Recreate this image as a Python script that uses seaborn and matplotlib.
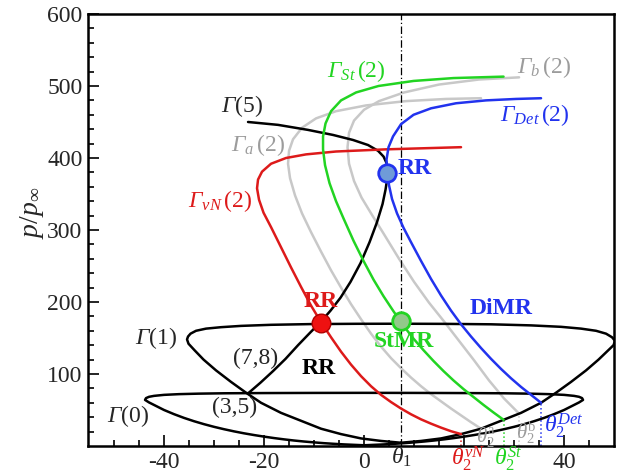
import numpy as np
import pandas as pd
import seaborn as sns
import matplotlib
matplotlib.use('Agg')
import matplotlib.pyplot as plt

# shock polars: (deflection angle, p/p_inf)
gamma0 = [(0, 1), (-2, 1.6), (-4, 2.2), (-6, 3), (-8, 3.9), (-10, 5), (-12, 6.2), (-14, 7.6),
          (-16, 9.2), (-18, 11), (-20, 13), (-22, 15.2), (-24, 17.6), (-26, 20.3), (-28, 23.3),
          (-30, 26.6), (-32, 30.3), (-34, 34.4), (-36, 39), (-38, 44.2), (-40, 50), (-41, 53.5),
          (-42, 57), (-43, 60.5), (-43.8, 64), (-43.6, 66.5), (-43, 68.3), (-42, 69.6), (-40, 71),
          (-37, 72), (-33, 72.7), (-28, 73.2), (-20, 73.5), (-10, 73.7), (0, 73.8), (10, 73.7),
          (20, 73.5), (28, 73.2), (33, 72.7), (37, 72), (40, 71), (42, 69.6), (43, 68.3),
          (43.6, 66.5), (43.8, 64), (43, 60.5), (42, 57), (41, 53.5), (40, 50), (38, 44.2),
          (36, 39), (34, 34.4), (32, 30.3), (30, 26.6), (28, 23.3), (26, 20.3), (24, 17.6),
          (22, 15.2), (20, 13), (18, 11), (16, 9.2), (14, 7.6), (12, 6.2), (10, 5), (8, 3.9),
          (6, 3), (4, 2.2), (2, 1.6), (0, 1)]

gamma1 = [(7.4, 4.5), (3.4, 7), (-0.6, 10.5), (-4.6, 16.5), (-8.6, 24), (-12.6, 35), (-16.6, 46),
          (-20.6, 60), (-23.6, 74), (-26.6, 89), (-29.6, 105), (-32.1, 120), (-33.9, 133),
          (-35.1, 142), (-35.4, 148), (-35.2, 152), (-34.7, 156), (-33.6, 160), (-31.6, 163),
          (-28.6, 165), (-24.6, 166.8), (-18.6, 168.3), (-10.6, 169.3), (-1.6, 169.7),
          (7.4, 169.8), (16.4, 169.6), (25.4, 169), (33.4, 167.5), (39.4, 165.5), (43.4, 163),
          (46.4, 160), (48.4, 156), (49.6, 151), (50.2, 146), (49.9, 140), (48.7, 132),
          (46.9, 120), (44.4, 105), (41.4, 89), (38.4, 74), (35.4, 60), (31.4, 46), (27.4, 35),
          (23.4, 24), (19.4, 16.5), (15.4, 10.5), (11.4, 7), (7.4, 4.5)]

gamma5 = [(-23.2, 73), (-20.7, 88), (-18.2, 104), (-15.7, 121), (-13.2, 140), (-10.7, 158),
          (-8.7, 172), (-6.7, 188), (-4.7, 206), (-2.7, 228), (-0.7, 254), (1.1, 283), (2.6, 311),
          (3.7, 336), (4.3, 356), (4.65, 372), (4.7, 382), (4.5, 393), (3.9, 402), (2.8, 410),
          (0.8, 418), (-2.2, 425), (-6.2, 432), (-11.2, 439), (-17.2, 446), (-23.2, 450)]

gamma_vn = [(19.4, 16.5), (17.4, 20.5), (15.4, 25.5), (13.4, 31), (11.4, 37), (9.4, 44), (7.4, 52),
            (5.4, 61), (3.4, 71), (1.4, 83), (-0.6, 97), (-2.6, 113), (-4.6, 131), (-6.6, 151),
            (-8.6, 172), (-10.6, 195), (-12.6, 221), (-14.6, 248), (-16.6, 276), (-18.6, 304),
            (-20.1, 324), (-21.0, 342), (-21.4, 358), (-21.2, 370), (-20.4, 381), (-18.6, 392),
            (-15.6, 400), (-11.6, 405), (-5.6, 409), (4.4, 412), (14.4, 414), (19.4, 415)]

gamma_a = [(23.4, 24), (21.4, 33), (19.4, 42.5), (17.4, 52), (15.4, 62), (13.4, 72), (11.4, 83),
           (9.4, 95), (7.4, 108), (5.4, 122), (3.4, 138), (1.4, 156), (-0.6, 176), (-2.6, 197),
           (-4.6, 220), (-6.6, 244), (-8.6, 270), (-10.6, 297), (-12.4, 323), (-13.8, 348),
           (-14.8, 372), (-15.2, 392), (-15.0, 410), (-14.2, 426), (-12.4, 442), (-9.6, 455),
           (-5.6, 465), (0.4, 473), (8.4, 479), (16.4, 482), (23.4, 483)]

gamma_st = [(27.9, 36.4), (25.9, 46.5), (23.9, 57), (21.9, 68), (19.9, 79), (17.9, 91), (15.9, 104),
            (13.9, 118), (11.9, 133), (9.9, 149), (7.9, 167), (5.9, 187), (3.9, 208), (1.9, 231),
            (-0.1, 257), (-2.1, 285), (-4.1, 316), (-5.6, 340), (-6.9, 365), (-7.8, 390),
            (-8.2, 412), (-8.2, 430), (-7.7, 448), (-6.6, 465), (-4.6, 480), (-1.6, 491),
            (2.9, 500), (9.9, 507), (17.9, 511), (27.9, 513)]

gamma_b = [(31, 45), (28, 66), (25, 91), (22, 119), (19, 146), (16, 173), (13, 199), (10, 228),
           (7, 260), (4, 294), (1.5, 322), (-0.5, 345), (-2, 368), (-3, 392), (-3.3, 415),
           (-3, 435), (-2, 452), (0, 467), (3, 479), (8, 491), (15, 502), (23, 509), (31, 512)]

gamma_det = [(35.4, 60), (33.4, 71), (31.4, 82), (29.4, 94), (27.4, 107), (25.4, 121), (23.4, 136),
             (21.4, 152), (19.4, 169), (17.4, 188), (15.4, 209), (13.4, 232), (11.4, 257),
             (9.4, 283), (7.9, 303), (6.6, 323), (5.6, 343), (5.0, 362), (4.6, 380), (4.5, 398),
             (4.9, 415), (5.8, 430), (7.4, 447), (9.9, 460), (13.4, 469), (18.4, 476),
             (24.4, 480), (30.4, 482), (35.4, 483)]

theta1 = 7.4
theta2_x = [19.4, 23.4, 27.9, 31.0, 35.4]
theta2_p = [16.5, 24, 36.4, 45, 60]

# reflection points: red RR, blue RR, StMR
point_x = [-8.7, 4.6, 7.4]
point_p = [171, 379, 173]

RED = '#dd1a1a'
GREEN = '#22d422'
BLUE = '#2233ee'
GRAY = '#c8c8c8'
LGRAY = '#9c9c9c'
theta2_c = [RED, GRAY, GREEN, GRAY, BLUE]

sns.set_style('ticks')
plt.rcParams['font.family'] = ['Liberation Serif', 'DejaVu Serif']
plt.rcParams['mathtext.fontset'] = 'custom'
plt.rcParams['mathtext.rm'] = 'Liberation Serif'
plt.rcParams['mathtext.it'] = 'Liberation Serif:italic'
plt.rcParams['mathtext.sf'] = 'Liberation Serif:italic'  # used for the italic capital Gamma
plt.rcParams['mathtext.bf'] = 'Liberation Serif:bold'
plt.rcParams['axes.unicode_minus'] = False
plt.rcParams['lines.solid_joinstyle'] = 'round'

fig, ax = plt.subplots(figsize=(6.19, 4.74), dpi=100)
fig.subplots_adjust(left=0.1422, right=0.992, bottom=0.0591, top=0.9705)


def curve(pts, color, lw=1.8, z=2):
    d = pd.DataFrame(pts, columns=['x', 'p'])
    sns.lineplot(data=d, x='x', y='p', sort=False, estimator=None, color=color,
                 lw=lw, ax=ax, zorder=z)


curve(gamma_a, GRAY, z=1)
curve(gamma_b, GRAY, z=1)
curve(gamma0, 'black')
curve(gamma1, 'black')
curve(gamma5, 'black')
curve(gamma_vn, RED, z=3)
curve(gamma_st, GREEN, z=3)
curve(gamma_det, BLUE, z=3)

ax.axvline(theta1, color='black', lw=0.9, dashes=(6, 2, 1, 2), zorder=1)
for tx, tp, c in zip(theta2_x, theta2_p, theta2_c):
    ax.plot([tx, tx], [0, tp], ls=':', lw=1.1, color=c, zorder=1)

sns.scatterplot(x=point_x[:1], y=point_p[:1], s=180, color='#ee1111', edgecolor='#b00000',
                linewidth=1, zorder=5, ax=ax)
sns.scatterplot(x=point_x[1:2], y=point_p[1:2], s=160, color='#6f9bd8', edgecolor=BLUE,
                linewidth=2, zorder=5, ax=ax)
sns.scatterplot(x=point_x[2:], y=point_p[2:], s=160, color='#92c98a', edgecolor=GREEN,
                linewidth=2, zorder=5, ax=ax)

fs = 17
G = r'$\mathsf{\Gamma}$'
ax.text(-24.4, 472, G + '(5)', fontsize=fs, ha='center', va='center')
ax.text(-21.2, 418, r'$\mathsf{\Gamma}_{a}\,$(2)', fontsize=fs, color=LGRAY, ha='center', va='center')
ax.text(-28.7, 340, r'$\mathsf{\Gamma}_{vN}\,$(2)', fontsize=fs, color=RED, ha='center', va='center')
ax.text(-1.6, 521, r'$\mathsf{\Gamma}_{St}\,$(2)', fontsize=fs, color=GREEN, ha='center', va='center')
ax.text(36, 527, r'$\mathsf{\Gamma}_{b}\,$(2)', fontsize=fs, color=LGRAY, ha='center', va='center')
ax.text(34.2, 460, r'$\mathsf{\Gamma}_{Det}\,$(2)', fontsize=fs, color=BLUE, ha='center', va='center')
ax.text(-41.5, 150, G + '(1)', fontsize=fs, ha='center', va='center')
ax.text(-47.1, 42, G + '(0)', fontsize=fs, ha='center', va='center')
ax.text(-21.7, 121, '(7,8)', fontsize=fs, ha='center', va='center')
ax.text(-25.9, 53, '(3,5)', fontsize=fs, ha='center', va='center')

ax.text(10.2, 385, 'RR', fontsize=fs, color=BLUE, weight='bold', ha='center', va='center')
ax.text(-8.6, 201, 'RR', fontsize=fs, color=RED, weight='bold', ha='center', va='center')
ax.text(-9.1, 108, 'RR', fontsize=fs, color='black', weight='bold', ha='center', va='center')
ax.text(7.9, 145, 'StMR', fontsize=fs, color=GREEN, weight='bold', ha='center', va='center')
ax.text(27.5, 191, 'DiMR', fontsize=fs, color=BLUE, weight='bold', ha='center', va='center')

ax.text(theta1, -16, r'$\theta_1$', fontsize=fs, ha='center', va='center')
ax.text(17.4, -18, r'$\theta_2^{vN}$', fontsize=fs, color=RED, ha='left', va='center')
ax.text(26.0, -18, r'$\theta_2^{St}$', fontsize=fs, color=GREEN, ha='left', va='center')
ax.text(22.4, 12, r'$\theta_2^{\mathrm{a}}$', fontsize=15, color=LGRAY, ha='left', va='center')
ax.text(30.4, 18, r'$\theta_2^{\mathrm{b}}$', fontsize=15, color=LGRAY, ha='left', va='center')
ax.text(36.0, 28, r'$\theta_2^{Det}$', fontsize=fs, color=BLUE, ha='left', va='center')

ax.set_xlim(-55.2, 50)
ax.set_ylim(0, 600)
ax.set_xticks([-40, -20, 0, 20, 40])
ax.set_xticklabels(['-40', '-20', '0', '', '40'])
ax.set_xticks(np.arange(-50, 50, 5), minor=True)
ax.set_yticks([100, 200, 300, 400, 500, 600])
ax.set_yticks(np.arange(20, 600, 20), minor=True)
ax.tick_params(which='both', direction='in', top=False, right=False, labelsize=fs,
               width=1.2, color='black')
ax.tick_params(which='major', length=8, pad=4)
ax.tick_params(which='minor', length=4)
for s in ax.spines.values():
    s.set_linewidth(1.8)
    s.set_color('black')

ax.set_xlabel('')
ax.set_ylabel(r'$p/p_\infty$', fontsize=20)
ax.yaxis.set_label_coords(-0.08, 0.54)

fig.savefig('out.png', dpi=100)
